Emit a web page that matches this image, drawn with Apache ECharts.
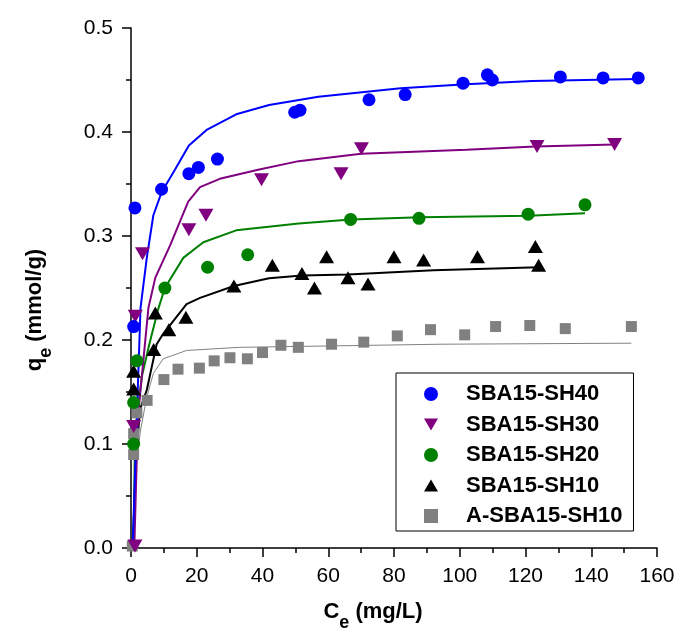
<!DOCTYPE html>
<html>
<head>
<meta charset="utf-8">
<script src="https://cdn.jsdelivr.net/npm/echarts@6/dist/echarts.min.js"></script>
<style>
  html, body { margin: 0; padding: 0; background: #fff; }
  #chart { width: 682px; height: 637px; }
</style>
</head>
<body>
<div id="chart"></div>
<script>
// x tick labels / y tick labels
var xTicks = [0, 20, 40, 60, 80, 100, 120, 140, 160];
var yTicks = [0.0, 0.1, 0.2, 0.3, 0.4, 0.5];

// measured points [Ce, qe]
var sh40 = [[0.8,0.213],[1.2,0.327],[9.3,0.345],[17.6,0.36],[20.5,0.366],[26.3,0.374],[49.8,0.419],[51.4,0.421],
  [72.4,0.431],[83.4,0.436],[101,0.447],[108.4,0.455],[109.9,0.45],[130.6,0.453],[143.6,0.452],[154.3,0.452]];
var sh30 = [[1.2,0.002],[0.8,0.117],[1.3,0.223],[3.5,0.283],[17.6,0.306],[22.8,0.32],[39.7,0.354],[63.9,0.36],
  [70.1,0.384],[123.5,0.386],[147.1,0.388]];
var sh20 = [[0.8,0.10],[0.8,0.14],[1.8,0.18],[10.3,0.25],[23.3,0.27],[35.5,0.282],[66.8,0.316],[87.6,0.317],
  [120.8,0.321],[138.1,0.33]];
var sh10 = [[0.8,0.153],[0.8,0.17],[6.9,0.191],[7.4,0.226],[11.5,0.21],[16.7,0.222],[31.3,0.252],[43,0.272],
  [52,0.264],[55.8,0.25],[59.5,0.28],[66,0.26],[72.1,0.254],[80,0.28],[89,0.277],[105.4,0.28],[123,0.29],[124,0.272]];
var ash10 = [[0.4,0.002],[0.8,0.09],[0.8,0.11],[1.8,0.13],[4.9,0.142],[10,0.162],[14.3,0.172],[20.8,0.173],
  [25.3,0.18],[30.1,0.183],[35.4,0.182],[40,0.188],[45.6,0.195],[50.9,0.193],[61,0.196],[70.8,0.198],[81,0.204],
  [91.1,0.21],[101.5,0.205],[110.9,0.213],[121.3,0.214],[132.1,0.211],[152.2,0.213]];

// fitted curves
var fit40 = [[0.5,0],[1.6,0.11],[2.9,0.231],[4.8,0.279],[6.8,0.32],[9.3,0.342],[13.4,0.364],[17.6,0.387],[23,0.402],
  [32,0.417],[42,0.426],[57,0.434],[82,0.442],[102,0.446],[122,0.449],[154.3,0.451]];
var fit30 = [[1,0],[2.1,0.126],[5.3,0.231],[7.4,0.26],[11.9,0.291],[17.4,0.333],[21,0.347],[27,0.355],[39,0.364],
  [51,0.372],[70,0.379],[102,0.383],[123,0.386],[147.1,0.388]];
var fit20 = [[0.8,0],[1.2,0.11],[3.3,0.165],[5.5,0.195],[8.3,0.23],[10.3,0.25],[15.9,0.279],[22,0.294],[32,0.3055],
  [51,0.312],[67,0.316],[88,0.318],[121,0.3195],[138.1,0.322]];
var fit10 = [[0.5,0],[1.5,0.082],[2.7,0.133],[4.8,0.152],[6.3,0.174],[7.8,0.196],[9.8,0.206],[16.9,0.2345],[21,0.2405],
  [31.3,0.252],[42,0.2595],[52,0.262],[66,0.263],[92,0.267],[124,0.27]];
var fitA10 = [[0.5,0],[1.2,0.069],[2.9,0.1135],[4.8,0.145],[6.8,0.168],[9.8,0.182],[16.9,0.19],[33,0.193],[94,0.196],[152.2,0.197]];

var names = ['SBA15-SH40', 'SBA15-SH30', 'SBA15-SH20', 'SBA15-SH10', 'A-SBA15-SH10'];
var colors = ['#0000ff', '#800080', '#008000', '#000000', '#808080'];

var FONT = "'Liberation Sans', Arial, sans-serif";

function fitLine(data, color, width) {
  return {
    type: 'line', data: data, showSymbol: false, symbol: 'none',
    lineStyle: { color: color, width: width }, z: 1, silent: true
  };
}
function dots(name, data, color, symbol, size, rotate) {
  return {
    name: name, type: 'scatter', data: data, symbol: symbol, symbolSize: size,
    symbolRotate: rotate || 0, itemStyle: { color: color, opacity: 1 }, z: 3
  };
}

var chart = echarts.init(document.getElementById('chart'));
chart.setOption({
  animation: false,
  backgroundColor: '#fff',
  grid: { left: 131, right: 25, top: 28, bottom: 85 },
  legend: {
    data: [
      { name: names[0], icon: 'circle' },
      { name: names[1], icon: 'path://M0,0 L15,0 L7.5,13 Z' },
      { name: names[2], icon: 'circle' },
      { name: names[3], icon: 'path://M7.5,0 L15,13 L0,13 Z' },
      { name: names[4], icon: 'path://M0,0 L11,0 L11,11 L0,11 Z' }
    ],
    orient: 'vertical',
    left: 396, top: 373,
    padding: [10, 11, 4, 28],
    itemWidth: 14, itemHeight: 14, itemGap: 8.5,
    borderColor: '#000', borderWidth: 1,
    textStyle: { fontFamily: FONT, fontSize: 22, fontWeight: 'bold', color: '#000', lineHeight: 22,
      padding: [0, 0, 0, 23] }
  },
  xAxis: {
    type: 'value', min: 0, max: 160, interval: 20,
    name: '{i|C}{s|e}{i| (mg/L)}',
    nameLocation: 'middle', nameGap: 48,
    nameTextStyle: {
      padding: [0, 42, 0, 0],
      rich: {
        i: { fontFamily: FONT, fontSize: 22, fontWeight: 'bold', color: '#000', lineHeight: 24 },
        s: { fontFamily: FONT, fontSize: 18, fontWeight: 'bold', color: '#000', lineHeight: 20, padding: [22, 0, 0, 0] }
      }
    },
    axisLine: { lineStyle: { color: '#000', width: 1.5 } },
    axisTick: { inside: false, length: 9, lineStyle: { color: '#000', width: 1.5 } },
    minorTick: { show: true, splitNumber: 2, length: 5, lineStyle: { color: '#000', width: 1.5 } },
    axisLabel: { margin: 18, fontFamily: FONT, fontSize: 21, color: '#000',
      formatter: function (v) { return xTicks.indexOf(v) >= 0 ? String(v) : ''; } },
    splitLine: { show: false }
  },
  yAxis: {
    type: 'value', min: 0, max: 0.5, interval: 0.1,
    name: '{i|q}{s|e}{i| (mmol/g)}',
    nameLocation: 'middle', nameGap: 84,
    nameTextStyle: {
      padding: [0, 44, 0, 0],
      rich: {
        i: { fontFamily: FONT, fontSize: 22, fontWeight: 'bold', color: '#000', lineHeight: 24 },
        s: { fontFamily: FONT, fontSize: 18, fontWeight: 'bold', color: '#000', lineHeight: 20, padding: [22, 0, 0, 0] }
      }
    },
    axisLine: { lineStyle: { color: '#000', width: 1.5 } },
    axisTick: { inside: false, length: 9, lineStyle: { color: '#000', width: 1.5 } },
    minorTick: { show: true, splitNumber: 2, length: 5, lineStyle: { color: '#000', width: 1.5 } },
    axisLabel: { margin: 18, fontFamily: FONT, fontSize: 21, color: '#000',
      formatter: function (v) {
        for (var i = 0; i < yTicks.length; i++) {
          if (Math.abs(yTicks[i] - v) < 1e-9) return yTicks[i].toFixed(1);
        }
        return '';
      } },
    splitLine: { show: false }
  },
  series: [
    fitLine(fitA10, colors[4], 1),
    fitLine(fit10, colors[3], 2),
    fitLine(fit20, colors[2], 2),
    fitLine(fit30, colors[1], 2),
    fitLine(fit40, colors[0], 2),
    dots(names[4], ash10, colors[4], 'rect', 11),
    dots(names[3], sh10, colors[3], 'triangle', [15, 13]),
    dots(names[2], sh20, colors[2], 'circle', 13),
    dots(names[1], sh30, colors[1], 'triangle', [15, 13], 180),
    dots(names[0], sh40, colors[0], 'circle', 13)
  ]
});
</script>
</body>
</html>
